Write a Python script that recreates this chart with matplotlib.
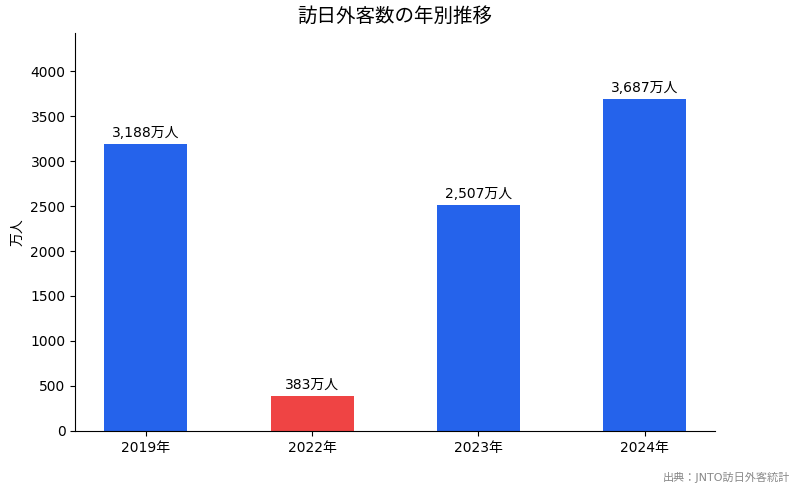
import matplotlib
matplotlib.use("Agg")
import matplotlib.pyplot as plt

plt.rcParams['font.family'] = ['DejaVu Sans', 'Noto Sans CJK JP']

years = ["2019年", "2022年", "2023年", "2024年"]
visitors = [3188, 383, 2507, 3687]
colors = ["#2563EB", "#EF4444", "#2563EB", "#2563EB"]

fig = plt.figure(figsize=(8, 4.93), dpi=100)
ax = fig.add_axes([0.094, 0.126, 0.8, 0.807])
x = range(len(years))
bars = ax.bar(x, visitors, width=0.5, color=colors)
ax.set_xticks(list(x))
ax.set_xticklabels(years, fontsize=10)
ax.tick_params(axis='y', labelsize=10)
ax.set_ylim(0, max(visitors) * 1.2)
ax.set_ylabel("万人", fontsize=10)
ax.set_title("訪日外客数の年別推移", fontsize=14, pad=8)
ax.spines['top'].set_visible(False)
ax.spines['right'].set_visible(False)
for b, v in zip(bars, visitors):
    ax.annotate(f"{v:,}万人", (b.get_x() + b.get_width() / 2, v),
                xytext=(0, 3), textcoords="offset points",
                ha="center", va="bottom", fontsize=10)
fig.text(0.9875, 0.02, "出典：JNTO訪日外客統計", ha="right", va="bottom",
         fontsize=8, color="#888888")
fig.savefig("out.png", dpi=100)
